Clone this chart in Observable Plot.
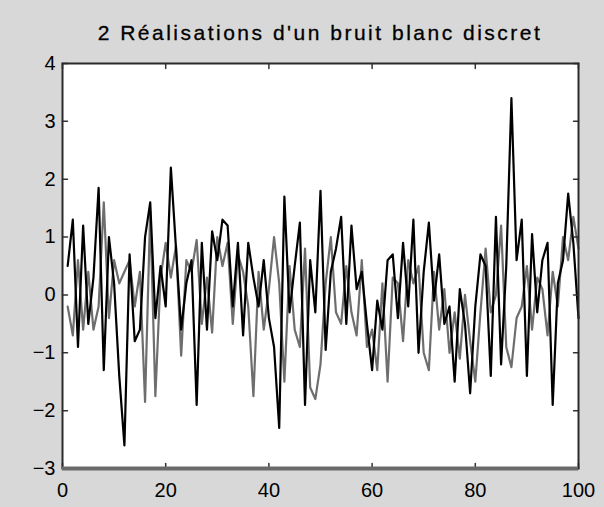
<!DOCTYPE html>
<html>
<head>
<meta charset="utf-8">
<script src="https://cdn.jsdelivr.net/npm/d3@7"></script>
<script src="https://cdn.jsdelivr.net/npm/@observablehq/plot@0.6"></script>
<style>
  html, body { margin: 0; padding: 0; }
  body {
    width: 604px; height: 507px; overflow: hidden;
    background: #d8d8d8;
    font-family: "Liberation Sans", Arial, sans-serif;
  }
  #title {
    height: 48px;
    margin-left: 62px; width: 516px;
    text-align: center;
    font-size: 21px; letter-spacing: 2.5px;
    line-height: 66px; color: #000;
    -webkit-text-stroke: 0.3px #000;
    white-space: nowrap;
  }
  #chart svg { display: block; background: transparent; }
</style>
</head>
<body>
<div id="title">2 Réalisations d'un bruit blanc discret</div>
<div id="chart"></div>
<script>
// Two realisations of a discrete white noise, samples n = 1..100
const samples = d3.range(1, 101);

const realisation1 = [
  0.5, 1.3, -0.9, 1.2, -0.5, 0.3, 1.85, -1.3, 1.0, 0.2,
  -1.4, -2.6, 0.7, -0.8, -0.6, 1.0, 1.6, -0.4, 0.5, -0.2,
  2.2, 0.8, -0.6, 0.2, 0.6, -1.9, 0.9, -0.6, 1.1, 0.6,
  1.3, 1.2, -0.2, 0.9, -0.7, 0.9, 0.3, -0.2, 0.6, -0.4,
  -0.9, -2.3, 1.7, -0.3, 0.5, 1.25, -1.9, 0.6, -0.3, 1.8,
  -0.95, 0.4, 0.8, 1.35, -0.5, 1.2, 0.1, 0.4, -0.5, -1.3,
  -0.1, -0.6, 0.6, 0.7, -0.4, 0.9, -0.2, 1.3, -1.0, 0.4,
  1.25, -0.1, 0.7, -0.5, -0.2, -1.5, 0.1, -0.5, -1.7, -0.2,
  0.7, 0.5, -1.4, 1.35, -1.2, 0.5, 3.4, 0.6, 1.3, -1.4,
  1.05, -0.3, 0.6, 0.9, -1.9, 0.2, 0.6, 1.75, 0.9, -0.4
];

const realisation2 = [
  -0.2, -0.7, 0.6, -0.6, 0.4, -0.6, -0.2, 1.6, -0.4, 0.6,
  0.2, 0.4, 0.6, -0.2, 0.4, -1.85, 1.45, -1.75, 0.3, 0.9,
  0.3, 0.85, -1.05, 0.6, 0.4, 0.95, -0.5, 0.3, -0.65, 1.0,
  0.5, 0.9, -0.5, 0.7, 0.4, -0.2, -1.75, 0.4, -0.6, 0.1,
  1.0, 0.2, -1.5, 0.5, -0.6, -0.9, 0.8, -1.6, -1.8, -1.2,
  0.2, 1.0, -0.3, -0.5, 0.5, -0.3, -0.7, 0.6, -0.9, -0.6,
  -1.3, 0.2, -1.5, 0.3, 0.2, -0.8, 0.6, 0.2, 0.5, -1.0,
  -1.3, 0.4, -0.6, 0.1, -1.0, -0.3, -1.1, 0.0, -0.8, -1.5,
  -0.3, 0.8, -0.3, 0.0, 1.2, -0.9, -1.25, -0.4, -0.2, 0.5,
  -0.6, 0.3, 0.1, -0.7, 0.4, -0.2, 1.0, 0.6, 1.35, 0.8
];

const xTicks = [0, 20, 40, 60, 80, 100];
const yTicks = [-3, -2, -1, 0, 1, 2, 3, 4];

const series1 = samples.map((n, i) => ({n, v: realisation1[i]}));
const series2 = samples.map((n, i) => ({n, v: realisation2[i]}));

// short inward-pointing tick drawn by a vector mark
const tickShape = { draw(context, l) { context.moveTo(0, 0); context.lineTo(0, -l); } };
const tickLen = 5;
const intFormat = d3.format("d");

const chart = Plot.plot({
  width: 604,
  height: 459,
  marginTop: 15,
  marginBottom: 39,
  marginLeft: 62,
  marginRight: 26,
  style: { fontFamily: "Liberation Sans, Arial, sans-serif", fontSize: "20px", color: "#000", background: "transparent" },
  x: { domain: [0, 100], label: null },
  y: { domain: [-3, 4], label: null },
  marks: [
    Plot.frame({ fill: "white" }),
    Plot.line(series2, { x: "n", y: "v", stroke: "#6e6e6e", strokeWidth: 2.2 }),
    Plot.line(series1, { x: "n", y: "v", stroke: "#000", strokeWidth: 2.2 }),
    // inward ticks on all four sides
    Plot.vector(xTicks, { x: d => d, frameAnchor: "bottom", length: tickLen, rotate: 0, anchor: "start", shape: tickShape, stroke: "#333", strokeWidth: 1.5 }),
    Plot.vector(xTicks, { x: d => d, frameAnchor: "top", length: tickLen, rotate: 180, anchor: "start", shape: tickShape, stroke: "#333", strokeWidth: 1.5 }),
    Plot.vector(yTicks, { y: d => d, frameAnchor: "left", length: tickLen, rotate: 90, anchor: "start", shape: tickShape, stroke: "#333", strokeWidth: 1.5 }),
    Plot.vector(yTicks, { y: d => d, frameAnchor: "right", length: tickLen, rotate: -90, anchor: "start", shape: tickShape, stroke: "#333", strokeWidth: 1.5 }),
    Plot.frame({ stroke: "#2a2a2a", strokeWidth: 2 }),
    Plot.ruleY([-3], { stroke: "#6a6a6a", strokeWidth: 4 }),
    Plot.axisX(xTicks, { tickSize: 0, tickPadding: 14, fontSize: 20, tickFormat: intFormat, label: null }),
    Plot.axisY(yTicks, { tickSize: 0, tickPadding: 7, fontSize: 20, tickFormat: intFormat, label: null })
  ]
});
document.getElementById("chart").appendChild(chart);
</script>
</body>
</html>
